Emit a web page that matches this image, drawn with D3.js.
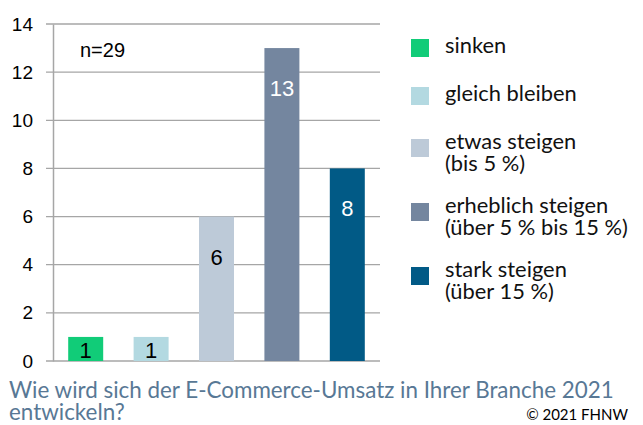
<!DOCTYPE html>
<html>
<head>
<meta charset="utf-8">
<script src="https://cdn.jsdelivr.net/npm/d3@7"></script>
<style>
body { margin: 0; background: #fff; }
</style>
</head>
<body>
<div id="chart"></div>
<script>
// data
var categories = ["sinken", "gleich bleiben", "etwas steigen", "erheblich steigen", "stark steigen"];
var values = [1, 1, 6, 13, 8];
var legendLines = [
	["sinken"],
	["gleich bleiben"],
	["etwas steigen", "(bis 5 %)"],
	["erheblich steigen", "(über 5 % bis 15 %)"],
	["stark steigen", "(über 15 %)"]
];
var yTicks = [0, 2, 4, 6, 8, 10, 12, 14];
var colors = ["#11cc78", "#b3d9e1", "#bdcad8", "#74869f", "#015a86"];
var titleLines = ["Wie wird sich der E-Commerce-Umsatz in Ihrer Branche 2021", "entwickeln?"];
var sampleNote = "n=29";
var copyright = "© 2021 FHNW";

drawbars()
function drawbars() {
	var width = 643, height = 425
	var left = 53, right = 380, top = 24, bottom = 361

	var svg = d3.select("#chart").append("svg")
		.attr("width", width)
		.attr("height", height)

	var x = d3.scaleBand()
		.domain(categories)
		.range([left, right])
		.paddingInner(0.465)
		.paddingOuter(0.2325)

	var y = d3.scaleLinear()
		.domain([0, 14])
		.range([bottom, top])

	// gridlines
	svg.append("g").selectAll("line")
		.data(yTicks)
		.enter().append("line")
		.attr("x1", left - 7)
		.attr("x2", right)
		.attr("y1", d => y(d))
		.attr("y2", d => y(d))
		.attr("stroke", "#a6a6a6")
		.attr("stroke-width", 1.3)

	// y axis
	var yAxis = svg.append("g")
		.attr("transform", `translate(${left},0)`)
		.call(d3.axisLeft(y).tickValues(yTicks).tickSize(0).tickPadding(20))
	yAxis.select(".domain").attr("stroke", "#a6a6a6").attr("stroke-width", 1.5)
	yAxis.selectAll("text")
		.style("font-family", "'Liberation Sans', Arial, sans-serif")
		.style("font-size", "19px")
		.attr("fill", "#000")

	// bars
	var data = categories.map((c, i) => ({ name: c, value: values[i], color: colors[i] }))
	var bars = svg.append("g").selectAll("g")
		.data(data)
		.enter().append("g")

	bars.append("rect")
		.attr("x", d => x(d.name))
		.attr("y", d => y(d.value))
		.attr("width", x.bandwidth())
		.attr("height", d => y(0) - y(d.value))
		.attr("fill", d => d.color)

	bars.append("text")
		.attr("x", d => x(d.name) + x.bandwidth() / 2)
		.attr("y", d => Math.min(y(d.value) + 48, y(0) - 3))
		.attr("text-anchor", "middle")
		.style("font-family", "'Liberation Sans', Arial, sans-serif")
		.style("font-size", "22px")
		.attr("fill", d => d3.lab(d.color).l < 60 ? "#fff" : "#000")
		.text(d => d.value)

	svg.append("text")
		.attr("x", 80)
		.attr("y", 57)
		.style("font-family", "'Liberation Sans', Arial, sans-serif")
		.style("font-size", "20px")
		.text(sampleNote)

	// legend
	var legendFont = "Lato, 'Open Sans', sans-serif"
	var legend = svg.append("g")
	var base = 53
	legendLines.forEach(function(lines, i) {
		legend.append("rect")
			.attr("x", 411)
			.attr("y", base - 5 + (lines.length - 1) * 4 - 9)
			.attr("width", 18)
			.attr("height", 18)
			.attr("fill", colors[i])
		lines.forEach(function(t, j) {
			legend.append("text")
				.attr("class", "lg")
				.attr("x", 445)
				.attr("y", base + j * 22)
				.style("font-family", legendFont)
				.style("font-size", "18px")
				.attr("fill", "#111")
				.text(t)
		})
		base += 48 + 16 * (lines.length - 1)
	})
	// fit legend font to the widest line
	var widest = d3.max(legend.selectAll(".lg").nodes(), n => n.getComputedTextLength())
	legend.selectAll(".lg").style("font-size", (18 * 183 / widest) + "px")

	// title
	var title = svg.append("g")
	titleLines.forEach(function(t, i) {
		title.append("text")
			.attr("x", 9)
			.attr("y", 398 + i * 22)
			.style("font-family", legendFont)
			.style("font-size", "20px")
			.attr("fill", "#587895")
			.text(t)
	})
	var tw = title.select("text").node().getComputedTextLength()
	title.selectAll("text").style("font-size", (20 * 605 / tw) + "px")

	svg.append("text")
		.attr("x", 628)
		.attr("y", 420)
		.attr("text-anchor", "end")
		.style("font-family", legendFont)
		.style("font-size", "15px")
		.attr("fill", "#000")
		.text(copyright)
}
</script>
</body>
</html>
